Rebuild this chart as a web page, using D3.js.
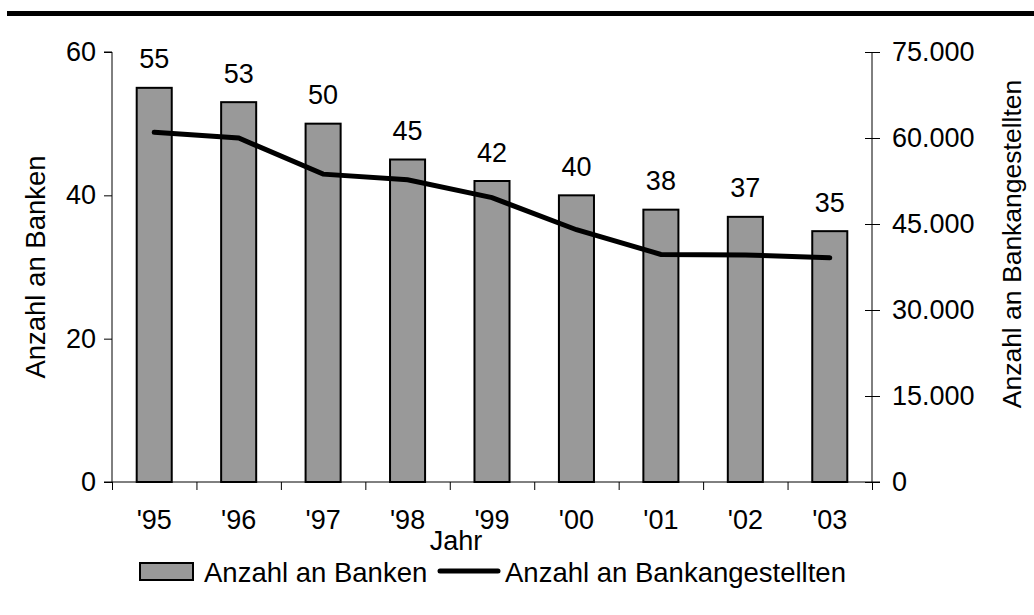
<!DOCTYPE html>
<html lang="de">
<head>
<meta charset="UTF-8">
<title>Anzahl an Banken und Bankangestellten</title>
<style>
body { margin: 0; background: #fff; }
svg { display: block; font-family: "Liberation Sans", Arial, sans-serif; }
.axis path, .axis line { stroke: #000; stroke-width: 1; }
.axis text { font-size: 27px; fill: #000; }
</style>
</head>
<body>
<svg width="1034" height="615"></svg>
<script src="https://d3js.org/d3.v7.min.js"></script>
<script>

// data
const years = ["'95", "'96", "'97", "'98", "'99", "'00", "'01", "'02", "'03"];
const banken = [55, 53, 50, 45, 42, 40, 38, 37, 35];
const angestellte = [61000, 60000, 53700, 52700, 49600, 44000, 39700, 39600, 39100];
const leftTicks = [0, 20, 40, 60];
const rightTicks = [0, 15000, 30000, 45000, 60000, 75000];

const svg = d3.select('svg');
const W = +svg.attr('width'), H = +svg.attr('height');
const margin = { top: 52, right: 162, bottom: 133, left: 112 };
const width = W - margin.left - margin.right;
const height = H - margin.top - margin.bottom;

const de = d3.formatLocale({ decimal: ',', thousands: '.', grouping: [3], currency: ['', ' €'] });

// top rule
svg.append('rect')
    .attr('x', 7).attr('y', 11)
    .attr('width', W - 7).attr('height', 5)
    .attr('fill', '#000');

const g = svg.append('g')
    .attr('transform', `translate(${margin.left},${margin.top})`);

const x = d3.scaleBand()
    .domain(years)
    .range([0, width])
    .paddingInner(0.585)
    .paddingOuter(0.2925);

// category boundaries for the x ticks
const xEdge = d3.scaleLinear().domain([0, years.length]).range([0, width]);

const yL = d3.scaleLinear().domain([0, 60]).range([height, 0]);
const yR = d3.scaleLinear().domain([0, 75000]).range([height, 0]);

// bars
g.append('g').selectAll('rect')
    .data(banken)
    .join('rect')
    .attr('x', (d, i) => x(years[i]))
    .attr('y', d => yL(d))
    .attr('width', x.bandwidth())
    .attr('height', d => height - yL(d))
    .attr('fill', '#999999')
    .attr('stroke', '#000')
    .attr('stroke-width', 2);

// value labels
g.append('g').selectAll('text')
    .data(banken)
    .join('text')
    .attr('x', (d, i) => x(years[i]) + x.bandwidth() / 2)
    .attr('y', d => yL(d) - 19.5)
    .attr('text-anchor', 'middle')
    .attr('font-size', 27)
    .text(d => d);

// left axis
g.append('g')
    .attr('class', 'axis')
    .call(d3.axisLeft(yL).tickValues(leftTicks).tickSize(8).tickSizeOuter(0).tickPadding(8))
    .call(a => a.select('.domain').attr('d', `M0,${height}V0H-8`));

// right axis, ticks crossing the line
g.append('g')
    .attr('class', 'axis')
    .attr('transform', `translate(${width},0)`)
    .call(d3.axisRight(yR).tickValues(rightTicks).tickSize(8).tickSizeOuter(0).tickPadding(12)
        .tickFormat(d => de.format(',')(d)))
    .call(a => a.selectAll('.tick line').attr('x1', -7))
    .call(a => a.select('.domain').attr('d', `M0,${height}V0`));

// x axis: line and boundary ticks
g.append('g')
    .attr('class', 'axis')
    .attr('transform', `translate(0,${height})`)
    .call(d3.axisBottom(xEdge).ticks(years.length).tickSize(8).tickSizeOuter(0).tickFormat(''))
    .call(a => a.select('.domain').attr('d', `M-8,0H${width + 8}`));

// x labels
g.append('g')
    .attr('class', 'axis')
    .attr('transform', `translate(0,${height})`)
    .call(d3.axisBottom(x).tickSize(0).tickPadding(25))
    .call(a => a.select('.domain').remove())
    .call(a => a.selectAll('text').attr('dy', 0).attr('y', 47));

// line
const line = d3.line()
    .x((d, i) => x(years[i]) + x.bandwidth() / 2)
    .y(d => yR(d));

g.append('path')
    .datum(angestellte)
    .attr('d', line)
    .attr('fill', 'none')
    .attr('stroke', '#000')
    .attr('stroke-width', 5)
    .attr('stroke-linecap', 'round');

// axis titles
svg.append('text')
    .attr('transform', `translate(45,${margin.top + height / 2}) rotate(-90)`)
    .attr('text-anchor', 'middle')
    .attr('font-size', 27.5)
    .text('Anzahl an Banken');

svg.append('text')
    .attr('transform', `translate(1021,244) rotate(-90)`)
    .attr('text-anchor', 'middle')
    .attr('font-size', 26.5)
    .text('Anzahl an Bankangestellten');

svg.append('text')
    .attr('x', 456)
    .attr('y', 550)
    .attr('text-anchor', 'middle')
    .attr('font-size', 27)
    .text('Jahr');

// legend
const legend = svg.append('g');
legend.append('rect')
    .attr('x', 140).attr('y', 563)
    .attr('width', 53).attr('height', 17)
    .attr('fill', '#999999')
    .attr('stroke', '#000')
    .attr('stroke-width', 2);
legend.append('text')
    .attr('x', 204).attr('y', 582)
    .attr('font-size', 27.5)
    .text('Anzahl an Banken');
legend.append('line')
    .attr('x1', 440).attr('x2', 498)
    .attr('y1', 571).attr('y2', 571)
    .attr('stroke', '#000')
    .attr('stroke-width', 5)
    .attr('stroke-linecap', 'round');
legend.append('text')
    .attr('x', 505).attr('y', 582)
    .attr('font-size', 27.5)
    .text('Anzahl an Bankangestellten');

</script>
</body>
</html>
